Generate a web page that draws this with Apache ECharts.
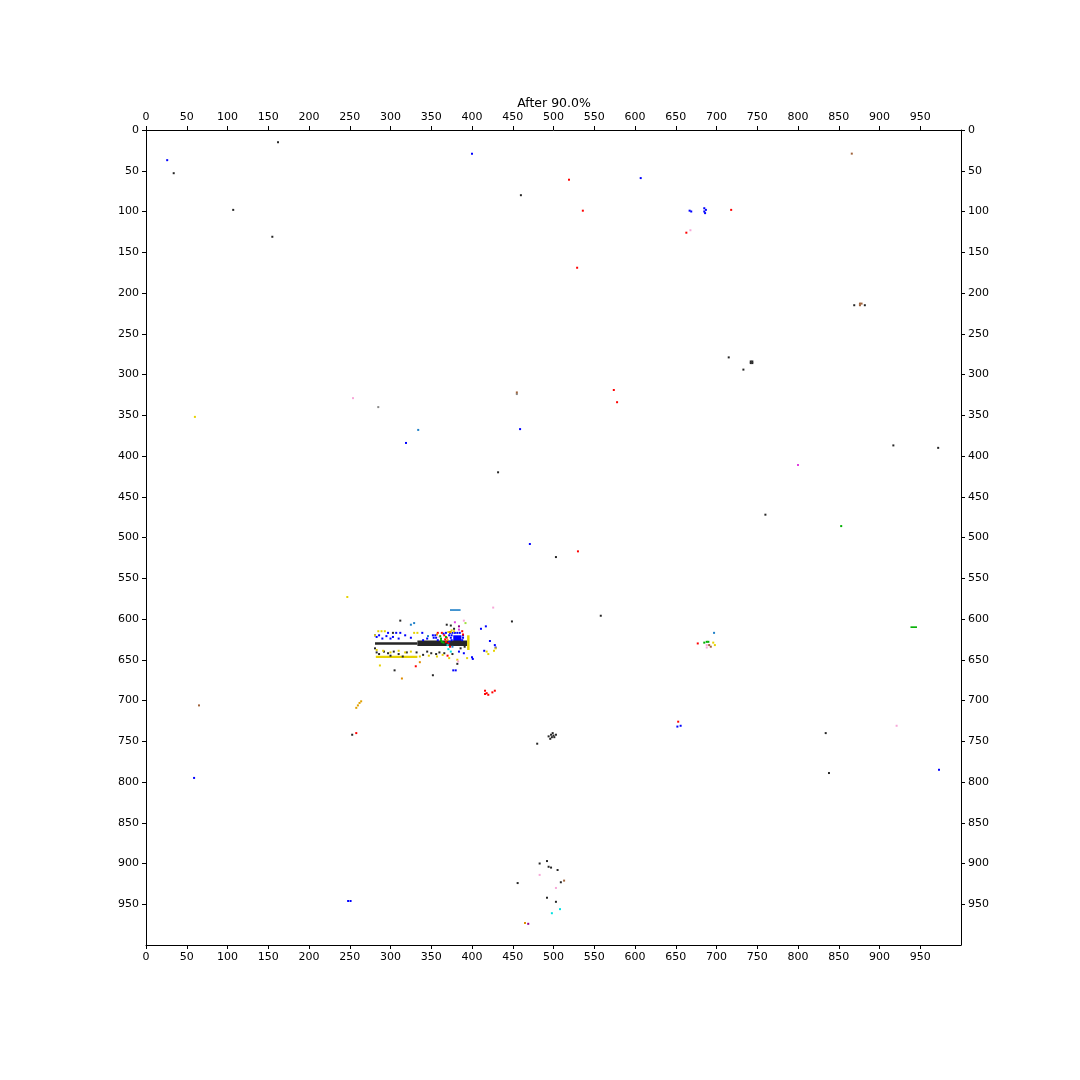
<!DOCTYPE html>
<html><head><meta charset="utf-8">
<script src="https://cdn.jsdelivr.net/npm/echarts/dist/echarts.min.js"></script>
<style>html,body{margin:0;padding:0;background:#fff}#c{width:1080px;height:1080px}</style>
</head><body><div id="c"></div>
<script>
// ---- data (image pixel coordinates: [x, y]) ----
const titleText = 'After 90.0%';
const tickValues = [0,50,100,150,200,250,300,350,400,450,500,550,600,650,700,750,800,850,900,950];

// pixel runs [x0, x1, y0, y1]
const blackRuns = [[281,333,628.5,631.5],[333,394,626.5,633]];
const yellowRuns = [[282,333,645,648],[394,397,620,638]];
const blueRuns = [[377,387,620,627]];
const midBlueRuns = [[373,386,588,590]];
const greenRuns = [[938,946,609,611]];

const blackPts = [[162,15],[34,53],[107,98],[155,131],[460,80],[715,279],[733,294],[742,284],[744,284],[742,286],[744,286],
  [869,215],[882,215],[917,387],[972,390],[432,420],[760,472],[503,524],[558,596],[449,603],[834,740],[838,789],[253,742],[480,753],
  [456,924],[509,923],[492,942],[503,947],[483,900],[492,897],[494,904],[497,905],[505,908],
  [494,744],[497,742],[499,740],[501,745],[496,747],[503,742],[498,745],[500,743],
  [312,602],[369,607],[303,617],[292,640],[297,642],[304,640],[310,643],[320,641],[332,641],[345,640],[350,642],[356,643],[366,642],[376,643],
  [305,663],[352,669],[382,655],[374,608],[378,612],[281,636],[283,641],[286,643],[300,645],[315,646],[340,644],[360,641],[386,636],[391,634]];
const bluePts = [[26,37],[400,29],[607,59],[667,99],[669,100],[685,96],[687,98],[685,100],[686,102],[319,384],[459,367],[471,508],[59,795],[973,785],
  [248,946],[251,946],[652,732],[656,731],
  [411,612],[417,609],[422,627],[428,632],[429,635],[415,639],[400,647],[401,649],[377,663],[380,663],
  [297,617],[307,617],[312,617],[339,617],[281,620],[283,622],[286,620],[290,624],[295,621],[300,624],[303,622],[310,624],[318,620],[325,623],[340,626],[345,624],[384,640],[390,642],
  [373,617],[376,617],[379,617],[382,617],[385,617],[352,620],[355,620],[372,620],[375,620],[389,620],
  [353,623],[356,623],[374,623],[389,623],[375,626],[388,626],[365,618],[368,617],[358,626],[372,628]];
const redPts = [[519,61],[536,99],[718,98],[663,126],[529,169],[574,319],[578,334],[530,517],[677,630],[258,740],[653,726],
  [416,688],[418,691],[420,693],[425,690],[428,688],[416,692],[370,645],[331,658],[389,619],[388,615],[363,617],[366,620],[369,623],[371,630],[373,634],
  [358,617],[367,625],[368,628]];
const yellowPts = [[60,352],[247,573],[285,615],[289,615],[293,615],[329,617],[333,617],[281,620],[375,614],[378,615],
  [287,657],[336,646],[347,645],[357,646],[364,644],[372,648],[382,650],[394,648],[418,640],[420,643],[427,639],[429,636],
  [283,638],[291,639],[300,641],[310,639],[318,641],[325,640],[696,629],[698,632],[371,616],[374,616]];
const ochrePts = [[258,709],[260,706],[262,703],[264,701]];
const midBluePts = [[334,368],[325,607],[329,605],[346,621],[376,634],[697,617]];
const pinkPts = [[254,329],[668,123],[426,586],[390,602],[383,652],[503,930],[483,914],[688,632],[688,635],[921,731],[360,622]];
const magentaPts = [[800,411],[379,604],[384,613]];
const purplePts = [[384,609],[469,974]];
const grayPts = [[285,340],[455,324]];
const brownPts = [[866,29],[876,213],[878,213],[876,215],[455,322],[691,632],[693,634],[513,921],[65,706]];
const orangePts = [[336,653],[314,673],[465,973],[373,616],[370,626],[357,619]];
const greenPts = [[853,486],[685,629],[688,628],[690,628],[362,626],[365,629],[368,622],[361,621],[362,624],[363,628]];
const cyanPts = [[498,961],[508,956],[371,637],[374,640],[370,632]];
const limePts = [[392,605]];

const C = {black:'#262626', blue:'#0000ff', red:'#ff0000', yellow:'#e6d200', ochre:'#e0a000', midBlue:'#1f80c8',
  pink:'#f7a8d8', magenta:'#e040e0', purple:'#900090', gray:'#888888', brown:'#a0643c', orange:'#e08c00',
  green:'#00b000', cyan:'#00e0e0', lime:'#a0e040'};

function runSeries(data, color){
  return {type:'custom', data:data, silent:true, animation:false,
    renderItem:function(params, api){
      const p0 = api.coord([api.value(0), api.value(2)]);
      const p1 = api.coord([api.value(1), api.value(3)]);
      return {type:'rect', shape:{x:Math.min(p0[0],p1[0]), y:Math.min(p0[1],p1[1]),
        width:Math.max(1,Math.abs(p1[0]-p0[0])), height:Math.max(1,Math.abs(p1[1]-p0[1]))},
        style:{fill:color}};
    }};
}
function ptSeries(data, color){
  return {type:'scatter', data:data, symbol:'rect', symbolSize:2, silent:true, animation:false,
    itemStyle:{color:color, opacity:1}};
}

function xAx(pos){
  return {type:'value', position:pos, min:0, max:1000, interval:50,
    axisLine:{show:true, onZero:false, lineStyle:{color:'#000', width:1}},
    axisTick:{show:true, length:4, inside:false, customValues:tickValues, lineStyle:{color:'#000', width:1}},
    axisLabel:{show:true, customValues:tickValues, fontSize:11, color:'#000', margin:7, fontFamily:'DejaVu Sans',
      formatter:function(v){return v===1000?'':String(v);}},
    splitLine:{show:false}};
}
function yAx(pos){
  const a = xAx(pos); a.inverse = true; return a;
}

const chart = echarts.init(document.getElementById('c'), null, {renderer:'canvas'});
chart.setOption({
  backgroundColor:'#ffffff',
  animation:false,
  title:{text:titleText, left:549, textAlign:'center', top:92,
    textStyle:{fontSize:12.5, fontWeight:'normal', color:'#000', fontFamily:'DejaVu Sans'}},
  grid:{left:146, top:130, width:815, height:815, containLabel:false, show:false},
  xAxis:[xAx('bottom'), xAx('top')],
  yAxis:[yAx('left'), yAx('right')],
  series:[
    runSeries(blueRuns, C.blue),
    runSeries(blackRuns, C.black),
    runSeries(yellowRuns, C.yellow),
    runSeries(midBlueRuns, C.midBlue),
    runSeries(greenRuns, C.green),
    ptSeries(blackPts, C.black),
    ptSeries(bluePts, C.blue),
    ptSeries(yellowPts, C.yellow),
    ptSeries(ochrePts, C.ochre),
    ptSeries(redPts, C.red),
    ptSeries(midBluePts, C.midBlue),
    ptSeries(pinkPts, C.pink),
    ptSeries(magentaPts, C.magenta),
    ptSeries(purplePts, C.purple),
    ptSeries(grayPts, C.gray),
    ptSeries(brownPts, C.brown),
    ptSeries(orangePts, C.orange),
    ptSeries(greenPts, C.green),
    ptSeries(cyanPts, C.cyan),
    ptSeries(limePts, C.lime)
  ]
});
</script></body></html>
